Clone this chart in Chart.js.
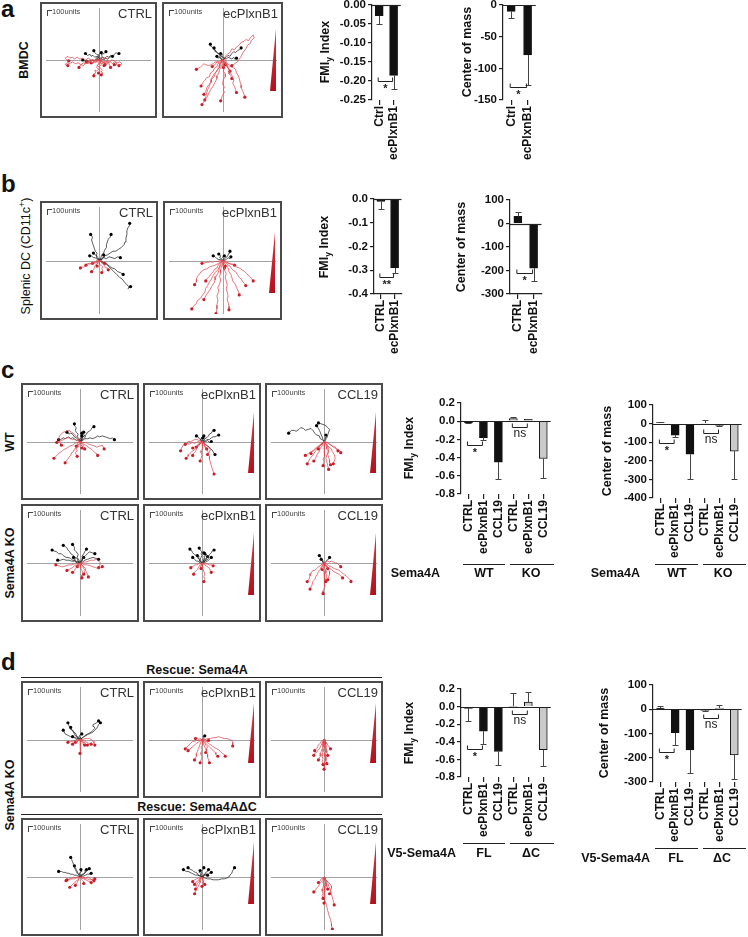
<!DOCTYPE html>
<html>
<head>
<meta charset="utf-8">
<title>Sema4A / PlxnB1 migration</title>
<script src="https://cdn.jsdelivr.net/npm/chart.js@4.4.1/dist/chart.umd.min.js"></script>
<style>
  body { margin: 0; background: #fff; font-family: "Liberation Sans", Arial, sans-serif; color: #111; }
  #page { position: relative; width: 748px; height: 937px; overflow: hidden; }
  .box { position: absolute; border: 2px solid #4a4a4a; box-sizing: border-box; background: #fff; }
  .box canvas { position: absolute; left: 0; top: 0; }
  .cond { position: absolute; right: 3px; top: 2px; font-size: 13px; color: #333; }
  .sb { position: absolute; left: 5px; top: 3px; font-size: 7.5px; color: #444; }
  .sb i { display: inline-block; width: 4px; height: 5px; border-top: 1px solid #444; border-left: 1px solid #444; vertical-align: -2px; }
  .wedge { position: absolute; width: 6px; clip-path: polygon(100% 0, 100% 100%, 0 100%); background: linear-gradient(#d8343f, #b3121c); }
  .t { position: absolute; white-space: nowrap; }
  .mid { transform: translate(-50%, -50%); }
  .rgt { transform: translate(-100%, -50%); }
  .rot { transform: translate(-50%, -50%) rotate(-90deg); }
  .hl { position: absolute; height: 0; border-top: 1.2px solid #222; }
  sub, sup { font-size: 70%; }
</style>
</head>
<body>
<div id="page"></div>
<script>
// ---------- tracks: x,y pairs (px from origin, y up). black = ends up, red = ends down ----------
const aCtrlBlack = [
  [0,0, -2,2, -1,4, -4,3, -6,5, -8,4, -9,6, -12,5, -14,7],
  [0,0, 1,2, -1,3, 1,5, 0,6, 2,7, 3,8],
  [0,0, 3,1, 4,3, 7,2, 9,4, 11,3, 13,5, 16,4, 17,6, 19,8, 21,6, 22,7],
  [0,0, 2,-1, 4,1, 6,0, 8,2, 10,1, 12,3, 15,4],
  [0,0, -3,1, -5,-1, -8,0, -10,-2, -13,0, -15,-1, -17,0],
  [0,0, -1,2, 1,3, 0,5, -2,6, -4,8, -5,10],
  [0,0, 2,2, 4,4, 3,6, 6,7, 8,9]
];
const aCtrlRed = [
  [0,0, -3,1, -5,-1, -8,0, -11,2, -14,0, -17,2, -20,1, -23,3, -26,1, -28,3, -31,2, -33,4, -36,2, -34,0, -32,-1],
  [0,0, -2,-2, -4,-1, -6,-3, -9,-2, -11,-4, -14,-3, -16,-6, -19,-5, -21,-8],
  [0,0, 1,-3, -1,-5, -2,-8, 0,-10, -2,-12, -4,-11, -3,-14, -5,-15, -5,-17],
  [0,0, 2,-2, 3,-5, 1,-7, 2,-9, 4,-11, 3,-13, 5,-14, 3,-16],
  [0,0, 2,-1, 5,-3, 7,-2, 9,-4, 11,-3, 12,-6, 13,-8],
  [0,0, 3,0, 5,-2, 8,-1, 10,-3, 13,-2, 15,-4, 17,-2, 19,-3, 20,-5, 17,-5],
  [0,0, -2,-1, -3,-3, -5,-2, -6,-4, -8,-3],
  [0,0, 3,-1, 6,-3, 9,-1, 12,-2, 14,0, 17,-1, 20,-3, 23,-2, 25,-4, 22,-6],
  [0,0, -4,-1, -7,-3, -10,-2, -13,-4, -16,-3, -19,-5, -22,-3, -25,-4, -28,-2, -31,-4, -34,-3, -36,-5, -33,-6],
  [0,0, 2,1, 4,3, 6,1, 8,2, 10,0, 9,-3, 7,-4, 6,-6],
  [0,0, -1,-2, 1,-4, -1,-6, 1,-8, 0,-10, 2,-12, 0,-14],
  [0,0, -2,1, -4,-1, -6,1, -8,-1, -10,0, -11,-3, -13,-2],
  [0,0, 1,1, 3,-1, 2,-3, 4,-4, 6,-3, 7,-5]
];
const aPlxBlack = [
  [0,0, -1,2, -3,3, -2,6, -5,7, -7,9, -8,11, -10,12, -11,14, -13,15, -13,17],
  [0,0, 1,2, -1,4, -3,5, -4,7, -6,8, -7,10, -9,11, -9,13],
  [0,0, 2,1, 1,3, -1,4, 0,6, -2,7],
  [0,0, 2,2, 4,1, 6,3, 8,2, 10,1, 12,3, 13,1, 15,2],
  [0,0, 2,2, 4,3, 6,5, 8,4, 10,7, 12,9, 14,8, 16,10, 18,11, 20,13],
  [0,0, -2,1, -3,3, -5,2, -6,4]
];
const aPlxRed = [
  [0,0, -2,-3, -5,-4, -6,-7, -9,-9, -10,-12, -13,-14, -14,-18, -17,-19, -19,-22, -21,-24, -23,-28],
  [0,0, -1,-3, -3,-5, -3,-8, -6,-11, -8,-15, -9,-18, -12,-21, -12,-24, -15,-27, -17,-30, -18,-34, -20,-37],
  [0,0, -2,-4, -1,-7, -3,-10, -4,-14, -6,-17, -6,-20, -8,-24, -10,-28, -12,-31, -15,-36, -16,-39, -18,-42, -20,-45, -22,-48],
  [0,0, 1,-3, 0,-6, 2,-8, 1,-12, 3,-15, 3,-18, 1,-21, 0,-26, 2,-29, 1,-32, 2,-35, 0,-38, -1,-41, -2,-44],
  [0,0, 2,-3, 4,-6, 6,-9, 8,-12, 9,-15, 11,-18, 12,-22, 11,-25, 13,-29, 14,-32, 15,-35],
  [0,0, 2,-2, 5,-5, 6,-8, 8,-12, 7,-15, 9,-17, 10,-20],
  [0,0, -2,-1, -4,-3, -6,-2, -8,-5, -11,-7],
  [0,0, 2,-2, 4,-4, 5,-7, 6,-8, 8,-12],
  [0,0, 2,3, 5,6, 8,8, 10,12, 13,11, 15,14, 18,16, 20,19, 23,20, 25,22, 28,21, 30,24, 33,27, 34,24, 31,21, 30,18, 27,16, 25,12, 22,8, 20,4, 18,1, 16,-2, 13,-4, 10,-6],
  [0,0, -3,-4, -4,-8, -6,-12, -9,-15, -12,-20, -13,-24, -14,-28, -16,-32, -17,-36, -18,-40, -19,-43],
  [0,0, 3,-2, 6,-4, 8,-7, 11,-8, 14,-10, 15,-14, 17,-17, 18,-20, 19,-24, 20,-27, 20,-30, 22,-34, 23,-37, 24,-40],
  [0,0, -3,-1, -5,-2, -8,-2, -10,-4, -12,-5, -15,-6, -18,-5, -20,-4, -22,-6, -24,-8, -26,-9, -28,-10],
  [0,0, -1,-2, 1,-3, 0,-5, 2,-6, 1,-8],
  [0,0, 1,1, 3,0, 4,-2, 2,-3, 3,-5]
];
const bCtrlBlack = [
  [0,0, -1,3, -3,5, -2,8, -4,10, -5,13, -6,16, -7,19, -8,22, -7,25, -9,28],
  [0,0, 2,3, 3,6, 5,8, 6,11, 8,14, 8,17, 9,20, 10,23, 12,25, 13,28],
  [0,0, 3,2, 6,5, 9,6, 12,8, 15,10, 18,10, 21,12, 24,14, 27,17, 28,20, 29,24, 30,28, 30,32, 31,35, 33,38, 33,40],
  [0,0, -2,1, -4,3, -6,3, -8,5, -10,5],
  [0,0, 3,1, 5,3, 8,2, 11,4, 14,3, 17,2, 20,4, 23,3],
  [0,0, 3,-1, 6,-3, 8,-3, 11,-6, 14,-8, 17,-9, 20,-12, 23,-13, 26,-15],
  [0,0, 3,-2, 6,-3, 9,-5, 12,-8, 14,-10, 16,-12, 19,-15, 22,-18, 25,-20, 28,-24, 30,-26, 33,-29, 31,-30, 34,-28],
  [0,0, -1,2, -3,3, -2,5, -4,6, -6,8],
  [0,0, 1,2, 3,1, 4,3, 6,4, 5,6]
];
const bCtrlRed = [
  [0,0, -2,-1, -4,-2, -6,-2, -8,-4, -10,-3, -12,-4, -14,-6, -16,-7, -18,-7, -20,-8],
  [0,0, -2,-2, -5,-3, -7,-2, -10,-4, -12,-3, -14,-5],
  [0,0, 1,-2, 0,-4, 2,-5, 4,-7, 3,-9, 4,-11, 3,-13],
  [0,0, 2,-1, 3,-3, 5,-4, 6,-6, 7,-8, 9,-8, 10,-10],
  [0,0, -1,-1, -3,0, -5,-2, -7,-3],
  [0,0, -1,-2, -2,-4, -4,-5, -5,-8, -6,-10, -8,-12],
  [0,0, -2,-1, -1,-3, -3,-4, -2,-6],
  [0,0, 1,-1, 3,0, 4,-2, 6,-3]
];
const bPlxBlack = [
  [0,0, -1,2, -3,3, -2,5, -4,7],
  [0,0, 2,1, 3,3, 5,4, 6,6, 7,8, 8,10],
  [0,0, -2,1, -4,1, -6,2, -8,4, -10,5],
  [0,0, 2,0, 4,1, 6,3, 8,2, 9,4],
  [0,0, 1,2, 0,4, 2,5]
];
const bPlxRed = [
  [0,0, -2,-3, -3,-6, -5,-10, -8,-13, -10,-16, -12,-20, -14,-23, -16,-27, -18,-30, -19,-34, -22,-38, -24,-41, -27,-43, -28,-46, -31,-49, -33,-52],
  [0,0, -2,-2, -4,-4, -6,-8, -8,-9, -10,-12, -12,-14, -14,-17, -16,-19, -18,-22],
  [0,0, 1,-3, -1,-6, -2,-10, -2,-13, -3,-17, -2,-21, -3,-25, -5,-29, -4,-33, -6,-38, -5,-43, -6,-48, -6,-52, -7,-57],
  [0,0, 1,-4, 2,-7, 2,-10, 4,-14, 3,-18, 4,-22, 5,-26, 4,-30, 5,-34, 6,-38, 5,-42, 6,-45, 7,-49, 7,-53],
  [0,0, 2,-3, 4,-5, 6,-8, 7,-12, 9,-15, 10,-18, 11,-22, 14,-26, 15,-29, 17,-33, 18,-37],
  [0,0, 3,-2, 5,-4, 8,-6, 10,-9, 12,-11, 14,-12, 16,-15, 18,-18, 20,-20, 22,-23, 24,-25, 25,-27],
  [0,0, 3,-1, 6,-3, 10,-4, 13,-5, 15,-7, 18,-8, 21,-10, 24,-12, 26,-14, 29,-17, 31,-19, 33,-22],
  [0,0, -3,0, -5,-1, -8,-1, -11,-2, -13,-1, -15,-2, -18,-2, -20,-3, -22,-3],
  [0,0, 2,-1, 4,-1, 5,-2, 7,-3, 9,-4, 11,-4, 13,-5],
  [0,0, -3,-2, -6,-4, -8,-5, -11,-6, -14,-7, -17,-9, -20,-10, -23,-12, -25,-15, -27,-17, -28,-20, -28,-23, -30,-26],
  [0,0, -1,-4, -3,-7, -4,-11, -5,-14, -7,-17, -8,-21, -9,-24, -11,-27, -14,-32, -16,-35, -18,-38, -20,-42],
  [0,0, -1,-2, 1,-4, 0,-6, 2,-8],
  [0,0, 2,-2, 1,-4, 3,-6]
];
const cWtCtrlBlack = [
  [0,0, -2,2, -4,1, -6,3, -8,4, -10,3, -12,5, -14,4, -16,3, -18,4, -21,2, -23,2],
  [0,0, -1,3, -3,5, -2,8, -4,10, -5,12, -4,15, -6,17, -6,19],
  [0,0, 2,2, 3,5, 5,6, 7,8, 8,10, 10,11, 12,13, 13,15, 15,16],
  [0,0, 3,1, 5,3, 8,3, 11,4, 13,3, 16,4, 19,6, 21,5, 24,6, 27,5, 30,4, 33,3, 35,4, 37,2],
  [0,0, -2,2, -4,4, -6,5, -8,8, -10,9, -12,8, -14,10],
  [0,0, 1,2, 3,2, 5,4, 6,6, 4,7, 2,9],
  [0,0, 2,1, 1,3, 3,4, 2,6],
  [0,0, -1,2, 1,4, 3,5, 2,8, 4,10]
];
const cWtCtrlRed = [
  [0,0, -1,-3, -3,-4, -4,-7, -6,-8, -7,-11, -9,-12, -10,-15, -12,-17, -13,-19, -15,-21, -16,-23],
  [0,0, 1,-2, -1,-4, -2,-6, -4,-8, -3,-10, -5,-12, -4,-14, -3,-16],
  [0,0, 2,-1, 4,-3, 6,-4, 8,-5, 10,-7, 12,-8, 14,-10, 16,-12, 18,-13, 19,-15],
  [0,0, -3,1, -5,2, -8,2, -10,3, -12,4, -14,4, -16,3, -18,2, -20,1, -22,0, -25,-1],
  [0,0, 1,-1, 3,-3, 4,-5, 5,-8],
  [0,0, -3,-1, -6,-2, -8,-4, -11,-5, -14,-7, -16,-8, -18,-9, -20,-11, -22,-12, -24,-14, -26,-16, -28,-18],
  [0,0, -2,3, -4,5, -6,8, -9,10, -12,12, -15,11, -18,10, -20,8, -22,6, -23,3, -22,0, -20,-4],
  [0,0, 3,-1, 6,-1, 8,-2, 10,-3, 13,-4, 16,-5, 18,-6, 21,-5, 24,-4, 25,-6, 26,-8],
  [0,0, -1,-1, -3,-2, -2,-4, -4,-5],
  [0,0, 2,-2, 1,-4, 3,-5, 2,-7]
];
const cWtPlxBlack = [
  [0,0, 2,1, 3,3, 5,4, 7,6, 8,8, 10,9, 11,11, 13,12],
  [0,0, 3,0, 5,2, 8,2, 10,4, 12,5, 14,5, 16,6, 18,7],
  [0,0, 2,1, 4,0, 6,1, 8,-1, 10,0],
  [0,0, -1,2, -3,3, -4,5, -6,6],
  [0,0, 2,-1, 3,-3, 5,-4, 8,-6, 9,-8, 11,-9, 12,-11, 13,-13, 14,-14],
  [0,0, 1,2, -1,3, 0,5, 2,6],
  [0,0, -2,1, -1,3, 1,4]
];
const cWtPlxRed = [
  [0,0, -2,-2, -4,-3, -5,-5, -7,-7, -8,-9, -10,-10, -12,-12, -14,-14, -15,-16, -17,-18],
  [0,0, -2,-2, -3,-4, -5,-6, -6,-8, -7,-11, -9,-13, -10,-15],
  [0,0, 1,-2, 0,-4, 1,-6, 0,-8, -1,-10, -1,-12, 0,-15, -1,-18, -2,-21],
  [0,0, 2,-3, 3,-5, 4,-8, 6,-10, 7,-13, 8,-16, 8,-19, 9,-22, 10,-26, 11,-29, 12,-32, 13,-35],
  [0,0, -2,-1, -4,0, -6,-1, -8,-2, -10,-1, -12,-2, -14,-3, -16,-2, -18,-3],
  [0,0, -3,1, -5,2, -8,2, -10,1, -12,0, -15,0, -17,-2, -19,-3, -20,-4, -22,-7, -23,-10],
  [0,0, 2,-1, 3,-3, 5,-4, 7,-6, 8,-8, 9,-9, 8,-11, 7,-13, 6,-14],
  [0,0, -1,-1, -2,-3, -4,-4, -6,-6],
  [0,0, -2,-1, -4,-3, -5,-5, -8,-6, -10,-7],
  [0,0, 1,-2, 3,-3, 2,-5, 4,-6, 5,-8]
];
const cWtCclBlack = [
  [0,0, -2,2, -4,3, -5,6, -8,7, -10,9, -12,12, -14,14, -17,13, -20,12, -22,14, -25,15, -27,13, -30,11, -32,12, -35,12, -37,10, -38,9],
  [0,0, -1,2, -2,5, -3,7, -4,10, -5,12, -6,14, -8,17],
  [0,0, 1,2, 3,4, 4,7, 5,10, 6,13, 4,15, 2,17, 0,18, -3,19, -6,20],
  [0,0, 2,2, 1,4, 3,5, 2,7]
];
const cWtCclRed = [
  [0,0, -2,-2, -4,-3, -6,-5, -8,-6, -10,-8, -12,-10, -14,-11, -16,-12, -18,-14, -20,-15],
  [0,0, -1,-2, -2,-5, -4,-7, -5,-10, -6,-12, -8,-15, -9,-18, -11,-21],
  [0,0, 1,-3, 0,-5, 1,-8, 0,-11, 1,-14, 0,-16, -1,-19, 0,-22, -1,-26],
  [0,0, 2,-2, 3,-5, 3,-8, 5,-11, 4,-14, 5,-17, 6,-20, 6,-23, 7,-25],
  [0,0, 2,-1, 4,-1, 6,-3, 8,-4, 10,-6, 12,-7, 13,-8, 15,-10],
  [0,0, -1,-1, -2,-3, -4,-4, -5,-6, -6,-8],
  [0,0, 3,-3, 5,-6, 8,-8, 9,-11, 11,-14, 12,-18, 11,-21, 10,-24],
  [0,0, -3,-3, -5,-5, -7,-8, -9,-10, -11,-13, -12,-15, -14,-17, -16,-20, -17,-22, -18,-24],
  [0,0, 2,-3, 4,-5, 5,-9, 4,-12, 3,-15, 2,-18, 3,-22, 4,-26, 5,-30],
  [0,0, -2,-2, -3,-4, -5,-5, -7,-7, -9,-8, -11,-10, -13,-11, -14,-13],
  [0,0, 3,-1, 5,-2, 7,-4, 10,-5, 12,-6, 14,-8, 16,-9, 18,-12]
];
const cKoCtrlBlack = [
  [0,0, -3,1, -5,3, -8,3, -10,5, -13,6, -15,6, -18,8, -20,10, -23,10, -25,12, -28,13, -30,14],
  [0,0, -2,2, -3,5, -5,6, -7,8, -10,10, -11,12, -13,14, -14,16, -16,18, -18,19],
  [0,0, -1,3, -3,6, -2,9, -4,12, -6,14, -6,17, -8,20],
  [0,0, 1,2, 3,5, 2,7, 4,10, 5,12, 7,15],
  [0,0, 3,1, 5,3, 8,4, 11,5, 14,6, 17,5, 20,4],
  [0,0, -3,0, -6,2, -9,2, -12,3, -15,3, -18,4, -21,3, -24,3],
  [0,0, 2,3, 4,6, 6,8, 8,10, 10,12, 13,11, 16,10],
  [0,0, -2,2, -4,1, -6,3, -5,5, -7,6],
  [0,0, 1,2, 3,3, 2,5, 4,6]
];
const cKoCtrlRed = [
  [0,0, 1,-2, 0,-4, 1,-6, 2,-8, 3,-11, 2,-13, 2,-16],
  [0,0, 2,-2, 3,-4, 4,-6, 6,-8, 7,-10, 8,-12, 9,-15],
  [0,0, -2,-1, -4,-3, -6,-3, -8,-5, -10,-6, -12,-7, -14,-8],
  [0,0, 3,-1, 5,-2, 8,-2, 11,-3, 14,-4, 17,-5, 20,-6, 22,-5, 24,-4],
  [0,0, -3,-1, -6,-1, -9,-2, -12,-2, -15,-3, -18,-4, -20,-4, -23,-3, -26,-2],
  [0,0, 3,1, 6,1, 9,2, 12,3, 15,3, 18,4, 20,2, 22,0, 21,-3, 20,-5],
  [0,0, -1,-2, -3,-4, -5,-6, -6,-8, -8,-10],
  [0,0, 2,-2, 4,-4, 6,-6, 5,-9, 4,-12],
  [0,0, -2,-1, -1,-3, -3,-4]
];
const cKoPlxBlack = [
  [0,0, -2,2, -3,4, -5,6, -6,8, -8,9, -10,11, -11,13, -13,15],
  [0,0, 2,1, 4,3, 5,5, 7,7, 8,9, 10,11, 11,13, 13,14],
  [0,0, -1,2, -2,4, -1,6, 0,8, -1,10, 0,12, -2,14, -3,16],
  [0,0, 2,1, 4,1, 6,2, 8,4, 10,6],
  [0,0, -2,0, -4,2, -6,2, -8,4, -10,6],
  [0,0, 1,2, 3,4, 5,5, 6,8, 4,10, 2,11],
  [0,0, -1,1, -3,2, -2,4, -4,5, -3,7, -5,8],
  [0,0, 2,2, 1,4, 3,5, 2,7, 4,8, 3,10],
  [0,0, 3,1, 2,3, 5,3, 7,5, 6,7]
];
const cKoPlxRed = [
  [0,0, 1,-2, 0,-4, 1,-6, 2,-9, 3,-12, 2,-15, 3,-18, 2,-20],
  [0,0, -1,-2, -3,-3, -4,-5, -5,-7, -6,-8, -8,-10, -9,-12],
  [0,0, 2,-1, 4,-3, 6,-4, 8,-6, 9,-8, 10,-10],
  [0,0, -2,-1, -4,-1, -6,-2, -8,-2, -10,-4, -12,-5],
  [0,0, 2,0, 4,-1, 6,-1, 8,-2, 10,-2, 12,-3],
  [0,0, -1,-1, 0,-3, -2,-4, -1,-6]
];
const cKoCclBlack = [
  [0,0, -1,2, -3,3, -3,5, -4,7, -5,8],
  [0,0, 2,1, 3,3, 5,4, 6,6],
  [0,0, -2,1, -1,3, -3,4]
];
const cKoCclRed = [
  [0,0, -1,-2, -3,-4, -4,-7, -6,-9, -7,-12, -9,-15, -10,-18, -12,-20, -13,-24, -15,-28],
  [0,0, 1,-3, 0,-5, 2,-8, 2,-11, 3,-14, 2,-17, 2,-20],
  [0,0, 2,-2, 4,-4, 6,-6, 8,-7, 10,-9, 12,-10, 14,-11, 16,-12, 18,-14, 20,-16],
  [0,0, 3,-1, 5,-3, 8,-4, 11,-6, 14,-7, 17,-8, 19,-10, 21,-12, 24,-14, 26,-16, 28,-18, 29,-20],
  [0,0, 0,-3, -1,-6, 0,-10, 1,-13, 0,-16, 1,-20, 1,-23, 0,-26, -1,-30, -1,-33],
  [0,0, -2,-1, -4,-3, -6,-4, -8,-6, -10,-8, -12,-8, -14,-11, -15,-14, -16,-17, -18,-20],
  [0,0, 2,1, 4,2, 6,1, 8,2, 10,1, 12,0, 14,0, 16,-2, 18,-4],
  [0,0, 1,-2, 3,-4, 4,-6, 6,-9, 6,-12, 5,-15, 4,-18],
  [0,0, -2,-2, -1,-4, -3,-5, -2,-7],
  [0,0, 2,-1, 1,-3, 3,-4, 4,-6]
];
const dFlCtrlBlack = [
  [0,0, -1,2, -3,3, -4,5, -5,7, -7,8, -8,10, -10,11, -11,13, -12,15, -13,18],
  [0,0, -2,1, -3,3, -5,4, -6,6, -7,8, -8,10, -10,11, -10,13],
  [0,0, -2,1, -4,0, -6,2, -8,3],
  [0,0, 2,1, 4,3, 6,4, 8,5, 10,7, 12,8, 14,10, 16,12, 15,14, 14,16, 16,17, 18,18, 20,20],
  [0,0, 3,2, 5,4, 8,6, 10,6, 12,7, 14,8, 16,10, 18,12, 19,14, 20,16, 22,18],
  [0,0, -2,1, -5,2, -8,3, -10,3, -12,4, -14,5, -16,6, -17,8, -18,10],
  [0,0, 1,2, -1,3, 0,5, 2,6]
];
const dFlCtrlRed = [
  [0,0, 1,-2, 0,-4, 1,-6, 0,-8, 1,-10, 0,-12, 1,-14, 0,-15],
  [0,0, -2,0, -4,-1, -6,-1, -8,-2, -10,-2, -13,-3],
  [0,0, 2,-1, 4,-1, 5,-2, 7,-3, 9,-4, 11,-4, 12,-5],
  [0,0, 1,-2, 3,-3, 5,-3, 6,-5, 8,-6],
  [0,0, -1,-1, -3,-2, -4,-4, -6,-4, -8,-5],
  [0,0, 3,0, 5,1, 8,1, 10,1, 12,0, 14,-2, 15,-4, 16,-6],
  [0,0, -2,-1, -3,-3, -5,-3],
  [0,0, 2,-2, 4,-3, 3,-5, 5,-6]
];
const dFlPlxBlack = [
  [0,0, 1,1, 2,2, 1,3, 3,4]
];
const dFlPlxRed = [
  [0,0, -2,-1, -4,-3, -6,-4, -8,-6, -10,-8, -12,-9, -13,-11, -15,-12],
  [0,0, -1,-2, -2,-5, -3,-8, -4,-10, -5,-13, -6,-15, -6,-18, -7,-20, -8,-22],
  [0,0, 1,-3, 0,-6, -1,-8, 0,-11, -1,-14, -1,-16, 0,-19, -1,-22, -2,-25],
  [0,0, 1,-3, 2,-6, 3,-8, 4,-11, 5,-14, 6,-16, 6,-19, 7,-22, 8,-25],
  [0,0, 2,-2, 4,-4, 6,-6, 8,-8, 10,-10, 12,-12, 14,-14, 15,-16, 17,-18],
  [0,0, 3,-2, 6,-3, 8,-5, 10,-6, 12,-8, 14,-9, 16,-10, 18,-11, 20,-13, 22,-15, 24,-16, 25,-18],
  [0,0, 3,0, 6,1, 9,1, 12,2, 15,2, 18,3, 21,2, 24,1, 27,1, 30,0, 32,-1, 33,-3, 33,-5, 33,-7],
  [0,0, -3,-1, -6,-1, -8,-2, -10,-2, -12,-4, -14,-6, -16,-8, -18,-10],
  [0,0, 1,-2, 3,-4, 4,-6, 6,-8, 5,-10, 5,-12, 4,-14],
  [0,0, -2,1, -4,0, -5,2, -7,1],
  [0,0, 2,1, 4,0, 5,-2, 7,-1]
];
const dFlCclBlack = [];
const dFlCclRed = [
  [0,0, -1,-2, -2,-4, -3,-6, -4,-8, -5,-10, -7,-12, -8,-14, -10,-15, -11,-17],
  [0,0, 0,-3, -1,-5, -1,-8, -2,-10, -3,-13, -4,-15, -4,-18, -5,-20, -6,-22],
  [0,0, 1,-3, 0,-5, 0,-8, -1,-10, -1,-13, -2,-16, -2,-18, -1,-21, -2,-24, -1,-27],
  [0,0, 0,-3, 1,-6, 1,-9, 2,-12, 1,-15, 2,-18, 2,-21, 1,-24, 1,-27, 0,-30, 0,-32],
  [0,0, 1,-2, 1,-4, 2,-6, 2,-9, 3,-12, 3,-14, 4,-17],
  [0,0, 1,-1, 2,-3, 3,-4, 4,-6, 5,-7, 6,-9, 7,-10],
  [0,0, -1,-2, -2,-5, 0,-7, 2,-10, 2,-12, 1,-15, 1,-18, 2,-21, 2,-23, 3,-26],
  [0,0, -1,-1, -3,-2, -4,-4, -6,-6, -7,-8, -8,-10, -10,-12],
  [0,0, 1,-1, 0,-3, 1,-4]
];
const dDcCtrlBlack = [
  [0,0, -1,2, -2,4, -3,6, -4,8, -5,10, -6,12, -7,14, -8,16, -9,19, -10,21],
  [0,0, -2,1, -4,2, -6,2, -8,3, -10,3, -12,4, -14,4, -16,5, -18,5, -20,6, -23,6],
  [0,0, 1,1, 2,3, 4,3, 5,5, 7,6, 8,8, 10,9],
  [0,0, -1,2, -3,4, -4,6, -5,8, -6,10, -6,12],
  [0,0, 2,1, 4,1, 6,2, 8,3, 10,3, 12,4],
  [0,0, 1,2, -1,3, 0,5, 2,6, 1,8],
  [0,0, 2,2, 4,3, 6,5, 5,7, 7,8]
];
const dDcCtrlRed = [
  [0,0, -1,-1, -2,-3, -4,-4, -5,-6, -7,-7, -8,-8, -10,-10, -11,-11],
  [0,0, 2,-1, 4,-1, 6,-2, 8,-2, 10,-3, 12,-3, 14,-2, 16,-2],
  [0,0, -2,-1, -4,-1, -6,-2, -8,-2, -10,-2, -12,-3, -14,-3],
  [0,0, 1,-1, 2,-3, 3,-4, 4,-5, 4,-7],
  [0,0, -1,-2, -2,-4, -3,-6, -4,-7, -5,-9],
  [0,0, 2,-1, 4,-2, 6,-3, 8,-4, 10,-5, 12,-6],
  [0,0, -3,0, -5,-1, -7,0, -9,-2, -11,-1, -13,-3, -15,-4],
  [0,0, 3,0, 6,-1, 9,0, 11,-2, 13,-3, 15,-4]
];
const dDcPlxBlack = [
  [0,0, -2,1, -4,2, -5,4, -7,5, -9,6, -10,7, -12,8, -14,9, -15,10],
  [0,0, 1,1, 3,2, 5,2, 7,3, 8,4, 10,5],
  [0,0, 3,-1, 6,-2, 9,-2, 12,-3, 15,-3, 18,-3, 21,-2, 24,-2, 27,-1, 29,0, 30,2, 32,4, 33,7, 35,10],
  [0,0, -2,1, -5,2, -7,2, -9,3, -11,4, -13,5, -15,6, -17,6, -19,7, -20,8],
  [0,0, -1,2, 0,4, -1,6, 1,8, 2,10],
  [0,0, 1,2, 3,3, 5,3, 6,2],
  [0,0, -2,2, -1,4, -3,5, -2,7],
  [0,0, 2,1, 3,3, 4,5, 6,6, 7,8]
];
const dDcPlxRed = [
  [0,0, -1,-2, -2,-4, -2,-6, -3,-8, -4,-10, -5,-12, -6,-14, -7,-16, -8,-18],
  [0,0, -1,-1, -3,-2, -4,-4, -6,-5, -7,-7, -8,-8],
  [0,0, 1,-2, 2,-4, 1,-6, 2,-8, 0,-10],
  [0,0, -2,-1, -4,-1, -6,-2, -8,-3, -9,-4, -10,-5],
  [0,0, 1,-2, 0,-3, 2,-5, 1,-7, 3,-8],
  [0,0, -2,-2, -3,-5, -5,-7, -6,-10, -7,-13]
];
const dDcCclBlack = [];
const dDcCclRed = [
  [0,0, -1,-2, -2,-4, -4,-6, -5,-8, -6,-10, -8,-12, -9,-14, -11,-16],
  [0,0, 0,-3, -1,-5, 0,-8, -1,-11, -2,-13, -2,-15, -1,-18, -2,-20, -1,-23],
  [0,0, 1,-2, 2,-4, 2,-6, 3,-8, 3,-10, 4,-13],
  [0,0, 1,-3, 2,-6, 2,-10, 1,-13, 0,-16, 0,-20, 1,-24, 2,-28, 3,-32, 4,-36, 5,-40, 6,-43, 7,-46, 8,-50, 8,-53, 9,-56],
  [0,0, 0,-3, -1,-6, 0,-10, 1,-13, 1,-17, 1,-20, 0,-24, 0,-28],
  [0,0, 1,-2, 3,-4, 5,-6, 7,-8, 8,-10, 8,-12, 7,-15, 6,-18],
  [0,0, -1,-1, -3,-2, -4,-4, -6,-6],
  [0,0, 2,-3, 4,-6, 5,-10, 7,-14, 8,-18, 9,-22, 10,-26, 11,-30]
];

// ---------- bar data ----------
const abCats = ['Ctrl', 'ecPlxnB1'];
const bCats = ['CTRL', 'ecPlxnB1'];
const sixCats = ['CTRL', 'ecPlxnB1', 'CCL19', 'CTRL', 'ecPlxnB1', 'CCL19'];

const aFmiMean = [-0.028, -0.185];
const aFmiSem = [0.022, 0.037];
const aFmiTicks = [0, -0.05, -0.1, -0.15, -0.2, -0.25];
const aComMean = [-10, -79];
const aComSem = [10, 48];
const aComTicks = [0, -50, -100, -150];

const bFmiMean = [-0.01, -0.29];
const bFmiSem = [0.03, 0.02];
const bFmiTicks = [0, -0.1, -0.2, -0.3, -0.4];
const bComMean = [30, -190];
const bComSem = [20, 55];
const bComTicks = [100, 0, -100, -200, -300];

const cFmiMean = [-0.02, -0.18, -0.45, 0.03, 0.02, -0.41];
const cFmiSem = [0.005, 0.03, 0.19, 0.02, 0.005, 0.21];
const cFmiTicks = [0.2, 0, -0.2, -0.4, -0.6, -0.8];
const cComMean = [5, -62, -165, 3, -10, -148];
const cComSem = [3, 10, 133, 17, 3, 152];
const cComTicks = [100, 0, -100, -200, -300, -400];

const dFmiMean = [-0.02, -0.28, -0.51, 0.005, 0.05, -0.49];
const dFmiSem = [0.14, 0.14, 0.15, 0.145, 0.12, 0.18];
const dFmiTicks = [0.2, 0, -0.2, -0.4, -0.6, -0.8];
const dComMean = [5, -97, -168, -5, 5, -188];
const dComSem = [9, 50, 94, 3, 12, 99];
const dComTicks = [100, 0, -100, -200, -300];

const blk = '#111', gry = '#c9c9c9';
const twoCols = [blk, blk];
const sixCols = [blk, blk, blk, gry, gry, gry];

Chart.defaults.font.family = '"Liberation Sans", Arial, sans-serif';
Chart.defaults.color = '#111';

const page = document.getElementById('page');
const RED = '#de4a52', RED_DOT = '#c81e2a', BLACK = '#262626';

function text(html, x, y, cls, style) {
  const d = document.createElement('div');
  d.className = 't ' + (cls || '');
  d.style.left = x + 'px';
  d.style.top = y + 'px';
  if (style) d.style.cssText += style;
  d.innerHTML = html;
  page.appendChild(d);
  return d;
}

function hline(x1, x2, y) {
  const d = document.createElement('div');
  d.className = 'hl';
  d.style.left = x1 + 'px';
  d.style.top = y + 'px';
  d.style.width = (x2 - x1) + 'px';
  page.appendChild(d);
}

function toPoints(flat) {
  const pts = [];
  for (let i = 0; i < flat.length; i += 2) pts.push({x: flat[i], y: flat[i + 1]});
  return pts;
}

const crossLines = {
  id: 'crossLines',
  beforeDatasetsDraw(chart) {
    const c = chart.ctx, a = chart.chartArea;
    const x0 = chart.scales.x.getPixelForValue(0), y0 = chart.scales.y.getPixelForValue(0);
    c.save();
    c.strokeStyle = '#a3a3a3';
    c.lineWidth = 1;
    c.beginPath();
    c.moveTo(Math.round(x0) + 0.5, a.top); c.lineTo(Math.round(x0) + 0.5, a.bottom);
    c.moveTo(a.left, Math.round(y0) + 0.5); c.lineTo(a.right, Math.round(y0) + 0.5);
    c.stroke();
    c.restore();
  }
};

function trackDs(flat, color, dot) {
  return {
    data: toPoints(flat),
    showLine: true,
    borderColor: color,
    borderWidth: 0.75,
    pointRadius: ctx => ctx.dataIndex === ctx.dataset.data.length - 1 ? 1.6 : 0,
    pointBackgroundColor: dot,
    pointBorderWidth: 0
  };
}

function trackPanel(x, y, w, h, cond, black, red, wedge) {
  const box = document.createElement('div');
  box.className = 'box';
  box.style.cssText = `left:${x}px;top:${y}px;width:${w}px;height:${h}px`;
  const cv = document.createElement('canvas');
  cv.width = w - 4; cv.height = h - 4;
  box.appendChild(cv);
  box.insertAdjacentHTML('beforeend',
    `<div class="sb"><i></i>100units</div><div class="cond">${cond}</div>`);
  if (wedge) {
    box.insertAdjacentHTML('beforeend',
      `<div class="wedge" style="right:5px;top:${wedge[0]}px;bottom:${wedge[1]}px"></div>`);
  }
  page.appendChild(box);
  const hw = (w - 4) / 2, hh = (h - 4) / 2;
  new Chart(cv, {
    type: 'scatter',
    data: {datasets: [
      ...red.map(t => trackDs(t, RED, RED_DOT)),
      ...black.map(t => trackDs(t, BLACK, '#000'))
    ]},
    options: {
      responsive: false, animation: false, events: [],
      layout: {padding: 0},
      plugins: {legend: {display: false}, tooltip: {enabled: false}},
      scales: {
        x: {type: 'linear', min: -hw, max: hw, display: false},
        y: {type: 'linear', min: -hh, max: hh, display: false}
      }
    },
    plugins: [crossLines]
  });
}

const barExtras = {
  id: 'barExtras',
  afterDatasetsDraw(chart) {
    const c = chart.ctx, ys = chart.scales.y, a = chart.chartArea;
    const ds = chart.data.datasets[0], meta = chart.getDatasetMeta(0);
    c.save();
    const y0 = Math.round(ys.getPixelForValue(0)) + 0.5;
    c.strokeStyle = '#222';
    c.lineWidth = 1.2;
    c.beginPath(); c.moveTo(a.left, y0); c.lineTo(a.right, y0); c.stroke();
    c.lineWidth = 1;
    c.strokeStyle = '#444';
    meta.data.forEach((bar, i) => {
      const m = ds.data[i], s = ds.sem[i];
      const end = m >= 0 ? m + s : m - s;
      const ya = ys.getPixelForValue(m), yb = Math.round(ys.getPixelForValue(end)) + 0.5;
      const bx = Math.round(bar.x) + 0.5;
      c.beginPath();
      c.moveTo(bx, ya); c.lineTo(bx, yb);
      c.moveTo(bx - 3, yb); c.lineTo(bx + 3, yb);
      c.stroke();
    });
    c.strokeStyle = '#222';
    c.fillStyle = '#222';
    c.textAlign = 'center';
    c.textBaseline = 'top';
    ds.sig.forEach(([i, j, v, label]) => {
      const x1 = meta.data[i].x - 1, x2 = meta.data[j].x - 1;
      const yy = Math.round(ys.getPixelForValue(v)) + 0.5;
      c.beginPath();
      c.moveTo(x1, yy - 4); c.lineTo(x1, yy); c.lineTo(x2, yy); c.lineTo(x2, yy - 4);
      c.stroke();
      c.font = label === 'ns' ? '12px "Liberation Sans", Arial' : 'bold 11px "Liberation Sans", Arial';
      c.fillText(label, (x1 + x2) / 2, yy + (label === 'ns' ? 0 : 2));
    });
    c.restore();
  }
};

// L,T,R,B = plot area in page px
function barChart(L, T, R, B, cats, means, sems, colors, ticks, dec, sig, xLine) {
  const yw = 46, xh = 64, padT = 8, padR = 4;
  const cv = document.createElement('canvas');
  cv.width = R - L + yw + padR;
  cv.height = B - T + padT + xh;
  cv.style.cssText = `position:absolute;left:${L - yw}px;top:${T - padT}px`;
  page.appendChild(cv);
  new Chart(cv, {
    type: 'bar',
    data: {
      labels: cats,
      datasets: [{
        data: means, sem: sems, sig: sig,
        backgroundColor: colors,
        borderColor: '#111', borderWidth: 1,
        barThickness: 8
      }]
    },
    options: {
      responsive: false, animation: false, events: [],
      layout: {padding: {top: padT, right: padR, left: 0, bottom: 0}},
      plugins: {legend: {display: false}, tooltip: {enabled: false}},
      scales: {
        x: {
          offset: true,
          grid: {offset: false, drawOnChartArea: false, tickLength: 5, color: '#222', lineWidth: 1.2},
          border: {display: xLine, color: '#222', width: 1.2},
          ticks: {minRotation: 90, maxRotation: 90, autoSkip: false, padding: 1,
                  font: {weight: 'bold', size: 12}, color: '#111'},
          afterFit(s) { s.height = xh; }
        },
        y: {
          min: Math.min(...ticks), max: Math.max(...ticks),
          afterBuildTicks(s) { s.ticks = ticks.map(v => ({value: v})); },
          grid: {drawOnChartArea: false, tickLength: 4, color: '#222', lineWidth: 1.2},
          border: {display: true, color: '#222', width: 1.2},
          ticks: {autoSkip: false, padding: 2, font: {weight: 'bold', size: 11.5, lineHeight: 1}, color: '#111',
                  callback: v => Number(v).toFixed(dec)},
          afterFit(s) { s.width = yw; }
        }
      }
    },
    plugins: [barExtras]
  });
}

// ---------- panel letters & row labels ----------
const L22 = 'font-weight:bold;font-size:24px;';
text('a', 1, -5, '', L22);
text('b', 1, 170, '', L22);
text('c', 1, 356, '', L22);
text('d', 1, 648, '', L22);
text('BMDC', 24, 60, 'rot', 'font-weight:bold;font-size:12.5px');
text('Splenic DC (CD11c<sup>+</sup>)', 25, 256, 'rot', 'font-size:12.5px');
text('WT', 10, 442, 'rot', 'font-weight:bold;font-size:12.5px');
text('Sema4A KO', 10, 563, 'rot', 'font-weight:bold;font-size:12.5px');
text('Sema4A KO', 10, 795, 'rot', 'font-weight:bold;font-size:12.5px');
text('Rescue: Sema4A', 197, 670, 'mid', 'font-weight:bold;font-size:12.5px');
hline(21, 382, 677);
text('Rescue: Sema4A\u0394C', 197, 807, 'mid', 'font-weight:bold;font-size:12.5px');
hline(21, 382, 814);

// ---------- track panels ----------
trackPanel(40, 2, 117, 116, 'CTRL', aCtrlBlack, aCtrlRed, null);
trackPanel(162, 2, 121, 116, 'ecPlxnB1', aPlxBlack, aPlxRed, [25, 25]);
trackPanel(40, 201, 118, 119, 'CTRL', bCtrlBlack, bCtrlRed, null);
trackPanel(163, 201, 119, 119, 'ecPlxnB1', bPlxBlack, bPlxRed, [29, 25]);

const colX = [21, 143, 265], colW = 118;
trackPanel(colX[0], 383, colW, 117, 'CTRL', cWtCtrlBlack, cWtCtrlRed, null);
trackPanel(colX[1], 383, colW, 117, 'ecPlxnB1', cWtPlxBlack, cWtPlxRed, [27, 25]);
trackPanel(colX[2], 383, colW, 117, 'CCL19', cWtCclBlack, cWtCclRed, [27, 25]);
trackPanel(colX[0], 504, colW, 118, 'CTRL', cKoCtrlBlack, cKoCtrlRed, null);
trackPanel(colX[1], 504, colW, 118, 'ecPlxnB1', cKoPlxBlack, cKoPlxRed, [27, 25]);
trackPanel(colX[2], 504, colW, 118, 'CCL19', cKoCclBlack, cKoCclRed, [27, 25]);

trackPanel(colX[0], 681, colW, 117, 'CTRL', dFlCtrlBlack, dFlCtrlRed, null);
trackPanel(colX[1], 681, colW, 117, 'ecPlxnB1', dFlPlxBlack, dFlPlxRed, [20, 33]);
trackPanel(colX[2], 681, colW, 117, 'CCL19', dFlCclBlack, dFlCclRed, [20, 33]);
trackPanel(colX[0], 818, colW, 118, 'CTRL', dDcCtrlBlack, dDcCtrlRed, null);
trackPanel(colX[1], 818, colW, 118, 'ecPlxnB1', dDcPlxBlack, dDcPlxRed, [22, 30]);
trackPanel(colX[2], 818, colW, 118, 'CCL19', dDcCclBlack, dDcCclRed, [22, 30]);

// ---------- bar charts ----------
barChart(372, 5, 406, 100, abCats, aFmiMean, aFmiSem, twoCols, aFmiTicks, 2, [[0, 1, -0.2, '*']], false);
barChart(503, 5, 540, 100, abCats, aComMean, aComSem, twoCols, aComTicks, 0, [[0, 1, -130, '*']], false);
barChart(374, 199, 407, 294, bCats, bFmiMean, bFmiSem, twoCols, bFmiTicks, 1, [[0, 1, -0.33, '**']], true);
barChart(510, 200, 546, 294, bCats, bComMean, bComSem, twoCols, bComTicks, 0, [[0, 1, -210, '*']], true);
barChart(461, 403, 555, 494, sixCats, cFmiMean, cFmiSem, sixCols, cFmiTicks, 1,
  [[0, 1, -0.26, '*'], [3, 4, -0.06, 'ns']], false);
barChart(653, 405, 746, 498, sixCats, cComMean, cComSem, sixCols, cComTicks, 0,
  [[0, 1, -104, '*'], [3, 4, -50, 'ns']], false);
barChart(461, 689, 555, 777, sixCats, dFmiMean, dFmiSem, sixCols, dFmiTicks, 1,
  [[0, 1, -0.48, '*'], [3, 4, -0.08, 'ns']], false);
barChart(653, 685, 746, 782, sixCats, dComMean, dComSem, sixCols, dComTicks, 0,
  [[0, 1, -176, '*'], [3, 4, -36, 'ns']], false);

// axis titles
const TT = 'font-weight:bold;font-size:12.5px';
text('FMI<sub>y</sub> Index', 326, 52, 'rot', TT);
text('Center of mass', 467, 52, 'rot', TT);
text('FMI<sub>y</sub> Index', 325, 247, 'rot', TT);
text('Center of mass', 461, 247, 'rot', TT);
text('FMI<sub>y</sub> Index', 410, 448, 'rot', TT);
text('Center of mass', 607, 451, 'rot', TT);
text('FMI<sub>y</sub> Index', 410, 733, 'rot', TT);
text('Center of mass', 604, 733, 'rot', TT);

// group labels under c and d charts
const GT = 'font-weight:bold;font-size:12.5px';
hline(463, 505, 564); hline(510, 554, 564);
text('Sema4A', 440, 573, 'rgt', GT);
text('WT', 484, 573, 'mid', GT);
text('KO', 531, 573, 'mid', GT);
hline(655, 698, 564); hline(703, 746, 564);
text('Sema4A', 640, 573, 'rgt', GT);
text('WT', 677, 573, 'mid', GT);
text('KO', 723, 573, 'mid', GT);

hline(463, 505, 843); hline(510, 554, 843);
text('V5-Sema4A', 456, 853, 'rgt', GT);
text('FL', 484, 853, 'mid', GT);
text('\u0394C', 531, 853, 'mid', GT);
hline(655, 698, 848); hline(703, 746, 848);
text('V5-Sema4A', 650, 858, 'rgt', GT);
text('FL', 676, 858, 'mid', GT);
text('\u0394C', 722, 858, 'mid', GT);
</script>
</body>
</html>
